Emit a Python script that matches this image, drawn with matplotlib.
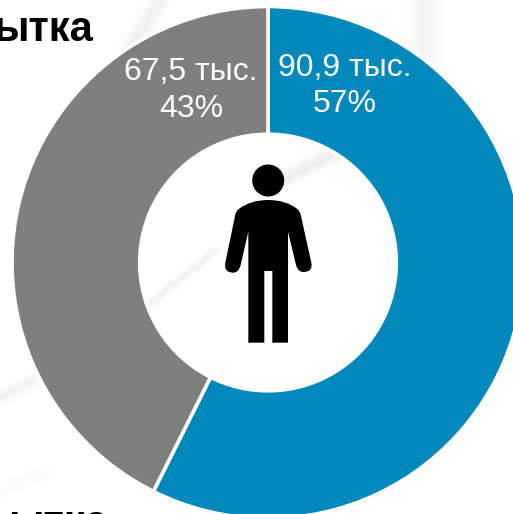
import matplotlib
matplotlib.use("Agg")
import matplotlib.pyplot as plt
from matplotlib.patches import Circle, PathPatch
from matplotlib.path import Path
import numpy as np

categories = ["Мужчины", "Женщины"]
values = [90.9, 67.5]
percent_labels = ["57%", "43%"]
value_labels = ["90,9 тыс.", "67,5 тыс."]
colors = ["#0088BB", "#7F7F7F"]
top_text = "ытка"
bottom_text = "ытка"

W, H = 513, 514
plt.rcParams["font.family"] = ["Liberation Sans", "DejaVu Sans"]
fig = plt.figure(figsize=(W / 100, H / 100), dpi=100, facecolor="white")
ax = fig.add_axes([0, 0, 1, 1])

# faint, blurred background streaks
streaks = [((150, 303), (215, 250), 0.05, 3.5),
           ((285, 178), (345, 148), 0.07, 5),
           ((0, 397), (40, 376), 0.05, 4.5),
           ((0, 490), (45, 472), 0.015, 6),
           ((160, 0), (128, 50), 0.06, 6),
           ((425, 0), (425, 60), 0.05, 10)]
yy, xx = np.mgrid[0:H, 0:W]
shade = np.zeros((H, W))
for (x0, y0), (x1, y1), amp, sig in streaks:
    dx, dy = x1 - x0, y1 - y0
    t = np.clip(((xx - x0) * dx + (yy - y0) * dy) / (dx * dx + dy * dy), 0, 1)
    d2 = (xx - x0 - t * dx) ** 2 + (yy - y0 - t * dy) ** 2
    shade = np.maximum(shade, amp * np.exp(-d2 / (2 * sig * sig)))
ax.imshow(1 - shade, cmap="gray", vmin=0, vmax=1, extent=(0, W, H, 0),
          aspect="auto", zorder=0, interpolation="bilinear")

wedges, _ = ax.pie(values, colors=colors, startangle=90, counterclock=False,
                   center=(268, 262.5), radius=256, frame=True,
                   wedgeprops=dict(width=127.7, edgecolor="white", linewidth=2.6))
ax.set_xlim(0, W)
ax.set_ylim(H, 0)
ax.set_aspect("auto")
ax.axis("off")
# the inverted y axis mirrors the pie, so mirror the angles back
total = sum(values)
ang = 90.0
for w, v in zip(wedges, values):
    a1 = ang - 360 * v / total
    w.set_theta1(-ang)
    w.set_theta2(-a1)
    ang = a1

for x, y1, y2, lab, pct in [(345, 68, 104, value_labels[0], percent_labels[0]),
                            (191, 71.5, 109, value_labels[1], percent_labels[1])]:
    ax.text(x, y1, lab, color="white", fontsize=23, ha="center", va="center")
    ax.text(x, y2, pct, color="white", fontsize=23, ha="center", va="center")

ax.add_patch(Circle((268.2, 180.5), 16, fc="black", ec="none", zorder=5))


def z(px, py):
    return (130 + px / 3, 130 + py / 3)


M, L, C, Q = Path.MOVETO, Path.LINETO, Path.CURVE3, Path.CLOSEPOLY
pts = [(M, (415, 210)), (C, (360, 210)), (C, (325, 238)),
       (C, (317, 245)), (C, (315, 258)),
       (L, (286, 398)), (C, (280, 428)), (C, (310, 428)),
       (C, (326, 428)), (C, (332, 405)),
       (L, (355, 305)), (L, (355, 638)), (L, (403, 638)), (L, (403, 423)),
       (L, (427, 423)), (L, (427, 638)), (L, (474, 638)), (L, (474, 305)),
       (L, (498, 405)), (C, (504, 426)), (C, (520, 426)),
       (C, (550, 426)), (C, (544, 398)),
       (L, (513, 258)), (C, (511, 245)), (C, (503, 238)),
       (C, (470, 210)), (C, (415, 210)), (Q, (415, 210))]
ax.add_patch(PathPatch(Path([z(*p) for _, p in pts], [c for c, _ in pts]),
                       fc="black", ec="none", zorder=5))

ax.text(93, 41, top_text, color="black", fontsize=30, fontweight="bold", ha="right", va="baseline")
ax.text(108, 535, bottom_text, color="black", fontsize=30, fontweight="bold", ha="right", va="baseline")

fig.savefig("out.png", dpi=100)
